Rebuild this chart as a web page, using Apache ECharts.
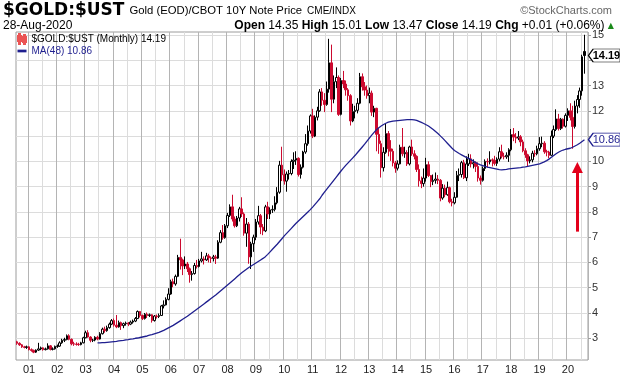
<!DOCTYPE html>
<html>
<head>
<meta charset="utf-8">
<title>$GOLD:$UST</title>
<script src="https://cdn.jsdelivr.net/npm/echarts@6/dist/echarts.min.js"></script>
<style>
  html, body { margin: 0; padding: 0; background: #fff; }
  #chart { width: 620px; height: 376px; }
</style>
</head>
<body>
<div id="chart"></div>
<script>
// first candle is Aug 2000, one candle per month
var startYear = 2000;
var startMonth = 8;

// monthly candles: [open, close, low, high]
var ohlc = [
  // 2000 Aug-Dec
  [2.86, 2.80, 2.74, 2.90], [2.80, 2.74, 2.70, 2.84], [2.74, 2.66, 2.62, 2.77], [2.66, 2.64, 2.60, 2.70], [2.64, 2.66, 2.58, 2.71],
  // 2001
  [2.66, 2.55, 2.52, 2.69], [2.55, 2.52, 2.47, 2.60], [2.52, 2.45, 2.41, 2.55], [2.45, 2.53, 2.42, 2.56], [2.53, 2.58, 2.50, 2.82], [2.58, 2.62, 2.53, 2.67],
  [2.62, 2.55, 2.51, 2.64], [2.55, 2.58, 2.52, 2.63], [2.58, 2.70, 2.55, 2.80], [2.70, 2.56, 2.52, 2.73], [2.56, 2.58, 2.52, 2.64], [2.58, 2.68, 2.55, 2.71],
  // 2002
  [2.68, 2.69, 2.62, 2.75], [2.69, 2.82, 2.66, 2.88], [2.82, 2.92, 2.78, 2.98], [2.92, 2.95, 2.85, 3.02], [2.95, 3.10, 2.92, 3.15], [3.10, 2.96, 2.92, 3.16],
  [2.96, 2.78, 2.72, 2.99], [2.78, 2.77, 2.70, 2.86], [2.77, 2.76, 2.71, 2.84], [2.76, 2.75, 2.70, 2.82], [2.75, 2.82, 2.72, 2.86], [2.82, 3.02, 2.80, 3.06],
  // 2003
  [3.02, 3.22, 3.00, 3.30], [3.22, 3.05, 3.02, 3.32], [3.05, 2.92, 2.84, 3.08], [2.92, 2.93, 2.85, 2.98], [2.93, 3.04, 2.88, 3.08], [3.04, 2.97, 2.92, 3.10],
  [2.97, 3.18, 2.95, 3.24], [3.18, 3.36, 3.15, 3.42], [3.36, 3.30, 3.22, 3.46], [3.30, 3.42, 3.26, 3.50], [3.42, 3.56, 3.38, 3.62], [3.56, 3.70, 3.52, 3.76],
  // 2004
  [3.70, 3.52, 3.46, 3.78], [3.52, 3.45, 3.40, 3.92], [3.45, 3.62, 3.42, 3.70], [3.62, 3.50, 3.33, 3.66], [3.50, 3.58, 3.40, 3.62], [3.58, 3.60, 3.50, 3.66],
  [3.60, 3.56, 3.48, 3.64], [3.56, 3.64, 3.52, 3.70], [3.64, 3.68, 3.58, 3.74], [3.68, 3.78, 3.64, 3.84], [3.78, 4.06, 3.76, 4.10], [4.06, 3.90, 3.82, 4.08],
  // 2005
  [3.90, 3.78, 3.72, 3.94], [3.78, 3.95, 3.74, 4.00], [3.95, 3.90, 3.80, 4.02], [3.90, 3.93, 3.84, 3.98], [3.93, 3.70, 3.62, 3.95], [3.70, 3.88, 3.66, 3.92],
  [3.88, 3.86, 3.78, 3.94], [3.86, 3.90, 3.80, 3.98], [3.90, 4.28, 3.88, 4.32], [4.28, 4.32, 4.18, 4.50], [4.32, 4.54, 4.30, 4.62], [4.54, 4.75, 4.50, 4.98],
  // 2006
  [4.75, 5.24, 4.72, 5.32], [5.24, 5.15, 5.02, 5.36], [5.15, 5.45, 5.08, 5.52], [5.45, 6.20, 5.42, 6.30], [6.20, 6.10, 5.72, 6.94], [6.10, 5.86, 5.50, 6.15],
  [5.86, 5.94, 5.74, 6.24], [5.94, 5.75, 5.62, 6.02], [5.75, 5.52, 5.20, 5.80], [5.52, 5.56, 5.28, 5.66], [5.56, 5.88, 5.52, 5.98], [5.88, 5.84, 5.76, 6.10],
  // 2007
  [5.84, 6.06, 5.80, 6.14], [6.06, 6.14, 6.00, 6.42], [6.14, 6.10, 5.92, 6.24], [6.10, 6.26, 6.06, 6.38], [6.26, 6.18, 6.00, 6.34], [6.18, 6.16, 5.98, 6.24],
  [6.16, 6.22, 6.04, 6.30], [6.22, 6.17, 5.94, 6.30], [6.17, 6.80, 6.14, 6.88], [6.80, 7.18, 6.76, 7.28], [7.18, 6.98, 6.90, 7.48], [6.98, 7.45, 6.94, 7.52],
  // 2008
  [7.45, 7.86, 7.36, 7.96], [7.86, 8.20, 7.80, 8.30], [8.20, 7.72, 7.62, 8.68], [7.72, 7.45, 7.38, 7.82], [7.45, 7.76, 7.40, 7.84], [7.76, 8.12, 7.62, 8.20],
  [8.12, 7.92, 7.80, 8.58], [7.92, 7.16, 7.06, 7.98], [7.16, 7.52, 6.62, 7.76], [7.52, 6.22, 5.95, 7.60], [6.22, 6.74, 5.74, 6.82], [6.74, 7.00, 6.42, 7.10],
  // 2009
  [7.00, 7.60, 6.88, 7.72], [7.60, 7.85, 7.50, 8.24], [7.85, 7.40, 7.12, 7.92], [7.40, 7.25, 7.08, 7.52], [7.25, 8.20, 7.20, 8.28], [8.20, 7.92, 7.72, 8.40],
  [7.92, 8.08, 7.72, 8.18], [8.08, 8.10, 7.96, 8.26], [8.10, 8.36, 8.02, 8.62], [8.36, 8.78, 8.30, 8.98], [8.78, 9.85, 8.72, 10.02], [9.85, 9.47, 9.22, 10.58],
  // 2010
  [9.47, 9.22, 9.08, 9.68], [9.22, 9.50, 8.80, 9.60], [9.50, 9.52, 9.28, 9.66], [9.52, 10.00, 9.45, 10.08], [10.00, 10.05, 9.70, 10.36], [10.05, 10.12, 9.86, 10.40],
  [10.12, 9.48, 9.40, 10.16], [9.48, 9.77, 9.32, 9.88], [9.77, 10.37, 9.72, 10.42], [10.37, 10.70, 10.30, 11.08], [10.70, 11.20, 10.62, 11.42], [11.20, 11.80, 11.10, 11.86],
  // 2011
  [11.80, 11.00, 10.92, 12.08], [11.00, 11.75, 10.96, 11.82], [11.75, 12.00, 11.62, 12.16], [12.00, 12.75, 11.96, 12.86], [12.75, 12.42, 12.20, 12.90], [12.42, 12.25, 11.95, 12.70],
  [12.25, 12.86, 12.20, 13.16], [12.86, 13.90, 12.72, 14.85], [13.90, 12.46, 11.95, 14.62], [12.46, 13.15, 12.30, 13.40], [13.15, 13.32, 12.90, 13.72], [13.32, 11.86, 11.80, 13.40],
  // 2012
  [11.86, 13.20, 11.82, 13.30], [13.20, 13.06, 12.90, 13.58], [13.06, 12.83, 12.60, 13.20], [12.83, 12.60, 12.40, 12.90], [12.60, 11.60, 11.42, 12.66], [11.60, 11.97, 11.55, 12.28],
  [11.97, 12.02, 11.70, 12.20], [12.02, 12.30, 11.90, 12.50], [12.30, 13.35, 12.26, 13.50], [13.35, 12.95, 12.80, 13.48], [12.95, 12.82, 12.60, 13.14], [12.82, 12.60, 12.48, 13.00],
  // 2013
  [12.60, 12.70, 12.30, 12.92], [12.70, 11.95, 11.80, 12.80], [11.95, 12.10, 11.75, 12.20], [12.10, 11.07, 10.40, 12.12], [11.07, 10.70, 10.30, 11.32], [10.70, 9.75, 9.36, 10.82],
  [9.75, 10.36, 9.60, 10.56], [10.36, 11.10, 10.30, 11.52], [11.10, 10.50, 10.20, 11.20], [10.50, 10.40, 10.02, 10.84], [10.40, 9.94, 9.80, 10.50], [9.94, 9.73, 9.55, 10.02],
  // 2014
  [9.73, 9.90, 9.64, 10.04], [9.90, 10.56, 9.88, 10.66], [10.56, 10.30, 10.20, 11.32], [10.30, 10.35, 10.14, 10.58], [10.35, 9.90, 9.82, 10.44], [9.90, 10.57, 9.84, 10.62],
  [10.57, 10.30, 10.22, 10.86], [10.30, 10.20, 10.08, 10.44], [10.20, 9.68, 9.58, 10.24], [9.68, 9.23, 9.00, 9.88], [9.23, 9.12, 8.94, 9.40], [9.12, 9.34, 9.00, 9.72],
  // 2015
  [9.34, 9.87, 9.20, 10.14], [9.87, 9.44, 9.38, 10.00], [9.44, 9.20, 8.98, 9.42], [9.20, 9.25, 9.06, 9.48], [9.25, 9.30, 9.12, 9.56], [9.30, 9.25, 9.10, 9.46],
  [9.25, 8.55, 8.42, 9.30], [8.55, 8.94, 8.48, 9.10], [8.94, 8.68, 8.58, 9.08], [8.68, 8.96, 8.64, 9.20], [8.96, 8.40, 8.34, 9.00], [8.40, 8.36, 8.22, 8.52],
  // 2016
  [8.36, 8.58, 8.30, 8.78], [8.58, 9.45, 8.56, 9.62], [9.45, 9.48, 9.22, 9.72], [9.48, 9.95, 9.36, 10.02], [9.95, 9.35, 9.30, 10.06], [9.35, 9.90, 9.22, 10.20],
  [9.90, 10.10, 9.82, 10.30], [10.10, 9.90, 9.76, 10.28], [9.90, 9.95, 9.72, 10.08], [9.95, 9.80, 9.58, 10.00], [9.80, 9.34, 9.20, 9.96], [9.34, 9.25, 9.08, 9.44],
  // 2017
  [9.25, 9.72, 9.20, 9.80], [9.72, 10.00, 9.62, 10.08], [10.00, 9.98, 9.76, 10.12], [9.98, 10.06, 9.88, 10.40], [10.06, 10.04, 9.80, 10.12], [10.04, 9.92, 9.84, 10.22],
  [9.92, 10.09, 9.82, 10.16], [10.09, 10.38, 10.00, 10.56], [10.38, 10.20, 10.12, 10.66], [10.20, 10.18, 10.08, 10.34], [10.18, 10.24, 10.10, 10.36], [10.24, 10.46, 9.98, 10.52],
  // 2018
  [10.46, 11.06, 10.40, 11.28], [11.06, 10.96, 10.80, 11.32], [10.96, 10.92, 10.72, 11.12], [10.92, 10.97, 10.84, 11.20], [10.97, 10.77, 10.60, 11.04], [10.77, 10.42, 10.36, 10.86],
  [10.42, 10.26, 10.14, 10.52], [10.26, 10.02, 9.80, 10.30], [10.02, 10.06, 9.92, 10.20], [10.06, 10.32, 9.96, 10.42], [10.32, 10.30, 10.18, 10.44], [10.30, 10.50, 10.24, 10.62],
  // 2019
  [10.50, 10.70, 10.42, 10.96], [10.70, 10.72, 10.56, 10.98], [10.72, 10.38, 10.30, 10.80], [10.38, 10.37, 10.20, 10.46], [10.37, 10.24, 10.12, 10.42], [10.24, 11.00, 10.22, 11.22],
  [11.00, 11.26, 10.92, 11.42], [11.26, 11.68, 11.20, 12.06], [11.68, 11.30, 11.22, 11.88], [11.30, 11.67, 11.24, 11.72], [11.67, 11.39, 11.30, 11.70], [11.39, 11.82, 11.34, 11.90],
  // 2020 Jan-Aug
  [11.82, 12.00, 11.60, 12.10], [12.00, 11.74, 11.62, 12.30], [11.74, 11.38, 10.50, 12.20], [11.38, 12.19, 11.30, 12.40], [12.19, 12.45, 11.90, 12.62], [12.45, 12.79, 12.12, 12.92],
  [12.79, 14.14, 12.60, 14.22], [14.35, 14.19, 13.47, 15.01]
];

// 48-month moving average, first value is Jun 2003
var maStart = '2003-06';
var ma48 = [
  2.82, 2.82, 2.83, 2.83, 2.84, 2.85, 2.86, 2.87, 2.88, 2.90, 2.91, 2.92, 2.94, 2.95, 2.97, 2.98, 3.00, 3.01, 3.03, 3.05,
  3.07, 3.09, 3.12, 3.14, 3.17, 3.20, 3.23, 3.27, 3.31, 3.36, 3.41, 3.46, 3.51, 3.57, 3.63, 3.69, 3.75, 3.81, 3.87, 3.94,
  4.01, 4.08, 4.15, 4.22, 4.29, 4.36, 4.43, 4.50, 4.57, 4.64, 4.71, 4.79, 4.87, 4.95, 5.03, 5.11, 5.19, 5.27, 5.35, 5.43,
  5.51, 5.59, 5.66, 5.73, 5.80, 5.86, 5.92, 5.98, 6.04, 6.10, 6.16, 6.23, 6.32, 6.42, 6.52, 6.62, 6.72, 6.83, 6.94, 7.05,
  7.15, 7.25, 7.35, 7.45, 7.55, 7.64, 7.73, 7.82, 7.91, 8.00, 8.09, 8.19, 8.30, 8.41, 8.52, 8.66, 8.78, 8.90, 9.02, 9.14,
  9.26, 9.38, 9.50, 9.62, 9.73, 9.84, 9.94, 10.04, 10.14, 10.24, 10.35, 10.46, 10.57, 10.68, 10.80, 10.92, 11.04, 11.15, 11.25, 11.33,
  11.40, 11.46, 11.51, 11.55, 11.57, 11.59, 11.60, 11.61, 11.62, 11.63, 11.64, 11.65, 11.65, 11.65, 11.64, 11.62, 11.58, 11.54, 11.50, 11.45,
  11.40, 11.33, 11.26, 11.18, 11.10, 11.01, 10.92, 10.82, 10.72, 10.62, 10.52, 10.43, 10.37, 10.31, 10.26, 10.21, 10.16, 10.12, 10.07, 10.01,
  9.95, 9.90, 9.86, 9.83, 9.80, 9.77, 9.75, 9.73, 9.71, 9.69, 9.67, 9.66, 9.67, 9.68, 9.70, 9.71, 9.72, 9.73, 9.74, 9.75,
  9.77, 9.78, 9.80, 9.82, 9.84, 9.86, 9.88, 9.90, 9.94, 9.98, 10.03, 10.09, 10.16, 10.23, 10.30, 10.36, 10.41, 10.45, 10.48, 10.50,
  10.52, 10.56, 10.61, 10.66, 10.72, 10.79, 10.86
];

var yGridValues = [3, 4, 5, 6, 7, 8, 9, 10, 11, 12, 13, 14, 15];
var yLabelValues = [3, 4, 5, 6, 7, 8, 9, 10, 12, 13, 15];
var lastClose = 14.19;
var lastMa = 10.86;
// red annotation arrow: tail and head (centre of the arrow head)
var arrowTail = ['2020-05', 7.22];
var arrowHead = ['2020-05', 9.76];

var RED = '#cc0a2f';
var NAVY = '#1f1f8f';

// month categories, one spare slot after the last candle
var months = [];
for (var k = 0; k <= ohlc.length; k++) {
  var m = startMonth - 1 + k;
  var yy = startYear + Math.floor(m / 12);
  var mm = m % 12 + 1;
  months.push(yy + '-' + (mm < 10 ? '0' : '') + mm);
}
var lastMonth = months[ohlc.length - 1];

// black when close >= previous close, red otherwise; hollow when close > open
var candleData = ohlc.map(function (d, i) {
  var prev = i > 0 ? ohlc[i - 1][1] : d[0];
  var col = d[1] >= prev ? '#000' : RED;
  var fill = d[1] > d[0] ? '#fff' : col;
  return { value: d, itemStyle: { color: fill, color0: fill, borderColor: col, borderColor0: col } };
});

var maData = months.map(function () { return null; });
var maIdx = months.indexOf(maStart);
ma48.forEach(function (v, i) { maData[maIdx + i] = v; });

var tagPath = 'path://M0,6 L5,0 L34,0 L34,12 L5,12 Z';

var chart = echarts.init(document.getElementById('chart'));
var option = {
  animation: false,
  backgroundColor: '#fff',
  textStyle: { fontFamily: 'Liberation Sans, Arial, sans-serif' },
  title: [
    {
      left: 3, top: 2, padding: 0,
      text: '{a|$GOLD:$UST} {b|Gold (EOD)/CBOT 10Y Note Price} {c|CME/INDX}',
      textStyle: {
        rich: {
          a: { fontFamily: 'DejaVu Sans', fontWeight: 'bold', fontSize: 17, color: '#000' },
          b: { fontFamily: 'Liberation Sans', fontWeight: 'normal', fontSize: 11.3, color: '#000' },
          c: { fontFamily: 'Liberation Sans', fontWeight: 'normal', fontSize: 10, color: '#000' }
        }
      }
    },
    {
      right: 8, top: 5, padding: 0,
      text: '©StockCharts.com',
      textStyle: { fontFamily: 'Liberation Sans', fontSize: 11, fontWeight: 'normal', color: '#666' }
    },
    {
      left: 3, top: 20, padding: 0,
      text: '28-Aug-2020',
      textStyle: { fontFamily: 'Liberation Sans', fontSize: 12, fontWeight: 'normal', color: '#000' }
    },
    {
      right: 6, top: 20, padding: 0,
      text: '{b|Open} 14.35 {b|High} 15.01 {b|Low} 13.47 {b|Close} 14.19 {b|Chg} +0.01 (+0.06%) {g|▲}',
      textStyle: {
        fontFamily: 'Liberation Sans', fontSize: 12, fontWeight: 'normal', color: '#000',
        rich: {
          b: { fontFamily: 'Liberation Sans', fontSize: 12, fontWeight: 'bold', color: '#000' },
          g: { fontFamily: 'DejaVu Sans', fontSize: 8, color: '#1a8a1a' }
        }
      }
    }
  ],
  legend: {
    orient: 'vertical', left: 17, top: 33, padding: 0,
    itemGap: 1, itemWidth: 9, itemHeight: 10,
    selectedMode: false,
    textStyle: { fontFamily: 'Liberation Sans', fontSize: 10 },
    data: [
      {
        name: '$GOLD:$UST (Monthly) 14.19',
        icon: 'path://M1,0h1v10h-1zM0,2h3v5h-3zM6,1h1v9h-1zM5,3h3v5h-3z',
        itemStyle: { color: '#000' },
        textStyle: { color: '#000' }
      },
      {
        name: 'MA(48) 10.86',
        icon: 'path://M0,0h10v3h-10z',
        itemStyle: { color: NAVY },
        textStyle: { color: NAVY }
      }
    ]
  },
  grid: {
    left: 16, right: 32, top: 32, bottom: 16,
    show: true, borderColor: '#9c9c9c', borderWidth: 1, backgroundColor: '#fff'
  },
  xAxis: {
    type: 'category',
    data: months,
    boundaryGap: true,
    axisLine: { show: false },
    axisTick: { show: false },
    axisLabel: {
      interval: function (i, v) { return v.slice(5) === '01'; },
      formatter: function (v) { return v.slice(2, 4); },
      color: '#222', fontSize: 11, margin: 4
    },
    splitLine: {
      show: true,
      interval: function (i, v) { var mo = v.slice(5); return mo === '01' || mo === '07'; },
      lineStyle: { color: ['#b4b4b4', '#dcdcdc'], width: 1 }
    }
  },
  yAxis: {
    type: 'value',
    position: 'right',
    min: 2.14,
    max: 15.12,
    axisLine: { show: false },
    axisTick: { show: true, customValues: yGridValues, length: 3, lineStyle: { color: '#9c9c9c' } },
    axisLabel: { customValues: yLabelValues, color: '#333', fontSize: 11, margin: 4 },
    splitLine: { show: true, lineStyle: { color: '#dcdcdc', width: 1 } }
  },
  series: [
    {
      name: '$GOLD:$UST (Monthly) 14.19',
      type: 'candlestick',
      data: candleData,
      barWidth: 2,
      clip: false,
      itemStyle: { borderWidth: 1 },
      markPoint: {
        symbol: tagPath,
        symbolSize: [32, 13],
        symbolKeepAspect: false,
        symbolOffset: [20, 0],
        silent: true,
        itemStyle: { color: '#fff', borderColor: '#000', borderWidth: 1 },
        label: {
          show: true, offset: [2, 0], color: '#000', fontWeight: 'bold', fontSize: 11,
          formatter: function (p) { return p.value.toFixed(2); }
        },
        data: [{ coord: [lastMonth, lastClose], value: lastClose }]
      }
    },
    {
      name: 'MA(48) 10.86',
      type: 'line',
      data: maData,
      showSymbol: false,
      clip: false,
      lineStyle: { color: NAVY, width: 1.3 },
      itemStyle: { color: NAVY },
      z: 3,
      markPoint: {
        symbol: tagPath,
        symbolSize: [32, 13],
        symbolKeepAspect: false,
        symbolOffset: [20, 0],
        silent: true,
        itemStyle: { color: '#fff', borderColor: NAVY, borderWidth: 1 },
        label: {
          show: true, offset: [2, 0], color: NAVY, fontSize: 11,
          formatter: function (p) { return p.value.toFixed(2); }
        },
        data: [{ coord: [lastMonth, lastMa], value: lastMa }]
      },
      markLine: {
        silent: true,
        symbol: ['none', 'triangle'],
        symbolSize: [11, 11],
        lineStyle: { color: '#e3001b', width: 3, type: 'solid' },
        label: { show: false },
        data: [[{ coord: arrowTail }, { coord: arrowHead }]]
      }
    }
  ]
};
chart.setOption(option);
</script>
</body>
</html>
